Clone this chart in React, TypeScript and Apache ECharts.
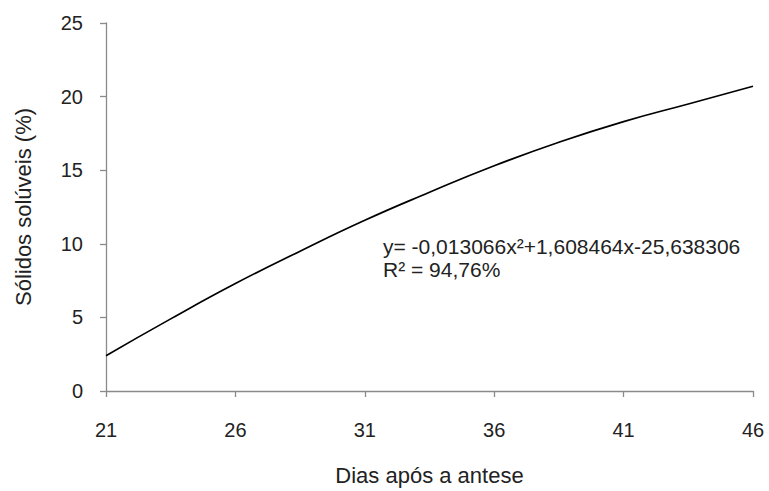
import React, { useEffect, useRef } from "react";
import * as echarts from "echarts";

// Days after anthesis (x) and soluble solids % (y)
const days = [21, 23.5, 26, 28.5, 31, 33.5, 36, 38.5, 41, 43.5, 46];
const solids = [2.4, 4.9, 7.3, 9.5, 11.6, 13.5, 15.3, 16.9, 18.3, 19.5, 20.7];
const xStart = 21;
const xEnd = 46;
const yTicks = [0, 5, 10, 15, 20, 25];
const equationLines = ["y= -0,013066x²+1,608464x-25,638306", "R² = 94,76%"];
const xTitle = "Dias após a antese";
const yTitle = "Sólidos solúveis (%)";

export default function App() {
  const ref = useRef<HTMLDivElement>(null);
  useEffect(() => {
    if (!ref.current) return;
    const chart = echarts.init(ref.current, undefined, { renderer: "svg" });
    const font = "'Liberation Sans', Arial, sans-serif";
    const axisColor = "#8a8a8a";
    const textColor = "#222";
    chart.setOption({
      animation: false,
      backgroundColor: "#fff",
      grid: { left: 106, right: 16, top: 23, bottom: 99 },
      xAxis: {
        type: "value",
        min: 0,
        max: xEnd - xStart,
        interval: 5,
        name: xTitle,
        nameLocation: "middle",
        nameGap: 73,
        nameTextStyle: { fontSize: 22, color: textColor, fontFamily: font },
        axisLine: { show: true, lineStyle: { color: axisColor, width: 1.3 } },
        axisTick: { show: true, inside: false, length: 6, lineStyle: { color: axisColor, width: 1.3 } },
        axisLabel: {
          margin: 29,
          fontSize: 20,
          color: textColor,
          fontFamily: font,
          formatter: (v: number) => String(v + xStart),
        },
        splitLine: { show: false },
      },
      yAxis: {
        type: "value",
        min: yTicks[0],
        max: yTicks[yTicks.length - 1],
        interval: 5,
        name: yTitle,
        nameLocation: "middle",
        nameGap: 72,
        nameTextStyle: { fontSize: 22, color: textColor, fontFamily: font },
        axisLine: { show: true, lineStyle: { color: axisColor, width: 1.3 } },
        axisTick: { show: true, inside: false, length: 6, lineStyle: { color: axisColor, width: 1.3 } },
        axisLabel: { margin: 23, fontSize: 20, color: textColor, fontFamily: font },
        splitLine: { show: false },
      },
      series: [
        {
          type: "line",
          data: days.map((d, i) => [d - xStart, solids[i]]),
          smooth: true,
          showSymbol: false,
          lineStyle: { color: "#000", width: 1.7 },
        },
      ],
      graphic: [
        {
          type: "text",
          left: 383,
          top: 235,
          style: {
            text: equationLines.join("\n"),
            fontSize: 21,
            lineHeight: 23,
            fill: textColor,
            fontFamily: font,
          },
        },
      ],
    });
    return () => chart.dispose();
  }, []);
  return (
    <div
      ref={ref}
      style={{ position: "fixed", left: 0, top: 0, width: 769, height: 491 }}
    />
  );
}
